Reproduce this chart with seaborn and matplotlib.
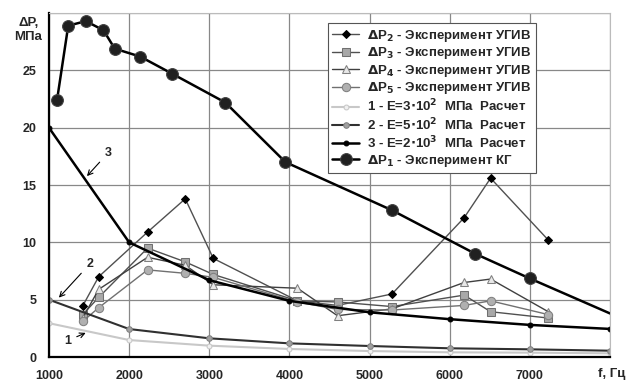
import matplotlib
matplotlib.use("Agg")
import matplotlib.pyplot as plt
import seaborn as sns

# Частоты, Гц
f_kg = [1100, 1240, 1460, 1680, 1820, 2140, 2540, 3200, 3950, 5280, 6320, 7000, 8000]
dp1 = [22.4, 28.9, 29.3, 28.5, 26.9, 26.2, 24.7, 22.2, 17.0, 12.8, 9.0, 6.85, 3.8]

f_ugiv = [1420, 1620, 2230, 2700, 3050, 4100, 4600, 5280, 6180, 6510, 7230]
dp2 = [4.45, 7.0, 10.9, 13.8, 8.6, 4.9, 4.5, 5.5, 12.15, 15.6, 10.2]
dp3 = [3.7, 5.2, 9.5, 8.3, 7.2, 4.9, 4.8, 4.4, 5.4, 3.95, 3.4]
dp4 = [3.4, 5.9, 8.7, 8.0, 6.3, 6.0, 3.6, 4.2, 6.5, 6.8, 3.95]
dp5 = [3.1, 4.3, 7.6, 7.3, 6.95, 4.8, 4.15, 4.1, 4.5, 4.9, 3.7]

f_calc = [1000, 2000, 3000, 4000, 5000, 6000, 7000, 8000]
calc1 = [2.95, 1.48, 0.99, 0.70, 0.52, 0.41, 0.38, 0.32]
calc2 = [5.0, 2.44, 1.63, 1.19, 0.96, 0.76, 0.67, 0.55]
calc3 = [20.0, 10.0, 6.7, 4.9, 3.9, 3.3, 2.8, 2.45]

x_ticks = [1000, 2000, 3000, 4000, 5000, 6000, 7000]
y_ticks = [0, 5, 10, 15, 20, 25]

sns.set_style("white")
plt.rcParams['font.family'] = ['Liberation Sans', 'DejaVu Sans']
plt.rcParams['font.weight'] = 'bold'

fig = plt.figure(figsize=(6.33, 3.85), dpi=100)
ax = fig.add_axes([0.0774, 0.0727, 0.8863, 0.8933])

# Экспериментальные кривые УГИВ
sns.lineplot(x=f_ugiv, y=dp2, ax=ax, sort=False, color="#505050", lw=1.0,
             marker="D", markersize=4.5, markerfacecolor="black", markeredgecolor="black",
             label=r"$\Delta$P$_2$ - Эксперимент УГИВ")
sns.lineplot(x=f_ugiv, y=dp3, ax=ax, sort=False, color="#505050", lw=1.0,
             marker="s", markersize=6, markerfacecolor="#a8a8a8", markeredgecolor="#707070",
             label=r"$\Delta$P$_3$ - Эксперимент УГИВ")
sns.lineplot(x=f_ugiv, y=dp4, ax=ax, sort=False, color="#404040", lw=1.0,
             marker="^", markersize=6, markerfacecolor="#e8e8e8", markeredgecolor="#808080",
             label=r"$\Delta$P$_4$ - Эксперимент УГИВ")
sns.lineplot(x=f_ugiv, y=dp5, ax=ax, sort=False, color="#707070", lw=1.0,
             marker="o", markersize=6, markerfacecolor="#b0b0b0", markeredgecolor="#808080",
             label=r"$\Delta$P$_5$ - Эксперимент УГИВ")

# Расчетные кривые
sns.lineplot(x=f_calc, y=calc1, ax=ax, sort=False, color="#c8c8c8", lw=1.5,
             marker="o", markersize=3.5, markerfacecolor="#f0f0f0", markeredgecolor="#c8c8c8",
             label=r"1 - E=3$\cdot$10$^2$  МПа  Расчет")
sns.lineplot(x=f_calc, y=calc2, ax=ax, sort=False, color="#303030", lw=1.5,
             marker="o", markersize=4, markerfacecolor="#a0a0a0", markeredgecolor="#808080",
             label=r"2 - E=5$\cdot$10$^2$  МПа  Расчет")
sns.lineplot(x=f_calc, y=calc3, ax=ax, sort=False, color="black", lw=1.8,
             marker="o", markersize=3.5, markerfacecolor="black", markeredgecolor="black",
             label=r"3 - E=2$\cdot$10$^3$  МПа  Расчет")

# Эксперимент КГ
sns.lineplot(x=f_kg, y=dp1, ax=ax, sort=False, color="black", lw=1.8,
             marker="o", markersize=8.5, markerfacecolor="#202020", markeredgecolor="#404040",
             markevery=list(range(len(f_kg) - 1)),
             label=r"$\Delta$P$_1$ - Эксперимент КГ")

ax.set_xlim(1000, 8000)
ax.set_ylim(0, 30)
ax.set_xticks(x_ticks + [8000])
ax.set_xticklabels([str(t) for t in x_ticks] + [""])
ax.set_yticks(y_ticks + [30])
ax.set_yticklabels([str(t) for t in y_ticks] + [""])
ax.grid(True, color="#888888", lw=0.9)
ax.tick_params(axis="both", labelsize=9, length=3, direction="out", pad=6)
ax.set_xlabel("")
ax.set_ylabel("")
for lab in ax.get_xticklabels() + ax.get_yticklabels():
    lab.set_fontweight("bold")

for s in ["top", "right"]:
    ax.spines[s].set_color("#bbbbbb")
    ax.spines[s].set_linewidth(0.8)
for s in ["left", "bottom"]:
    ax.spines[s].set_color("black")
    ax.spines[s].set_linewidth(1.6)

fig.text(0.045, 0.888, "ΔP,\nМПа", ha="center", va="bottom", fontsize=9.5,
         fontweight="bold", linespacing=1.25)
fig.text(0.988, 0.045, "f, Гц", ha="right", va="top", fontsize=9.5, fontweight="bold")

# Подписи кривых
arrow = dict(arrowstyle="->", color="black", lw=0.8)
ax.annotate("3", xy=(1450, 15.6), xytext=(1740, 17.3), fontsize=9, fontweight="bold",
            ha="center", va="bottom", arrowprops=arrow)
ax.annotate("2", xy=(1100, 5.0), xytext=(1510, 7.6), fontsize=9, fontweight="bold",
            ha="center", va="bottom", arrowprops=arrow)
ax.annotate("1", xy=(1490, 2.2), xytext=(1230, 0.9), fontsize=9, fontweight="bold",
            ha="center", va="bottom", arrowprops=arrow)

leg = ax.legend(loc="upper left", bbox_to_anchor=(0.485, 0.99),
                frameon=True, fancybox=False, handlelength=2.0, handletextpad=0.6,
                labelspacing=0.12, borderpad=0.35, prop={"weight": "bold", "size": 9.5})
leg.get_frame().set_edgecolor("#555555")
leg.get_frame().set_linewidth(0.8)
leg.get_frame().set_alpha(1)

fig.savefig("out.png", dpi=100)
